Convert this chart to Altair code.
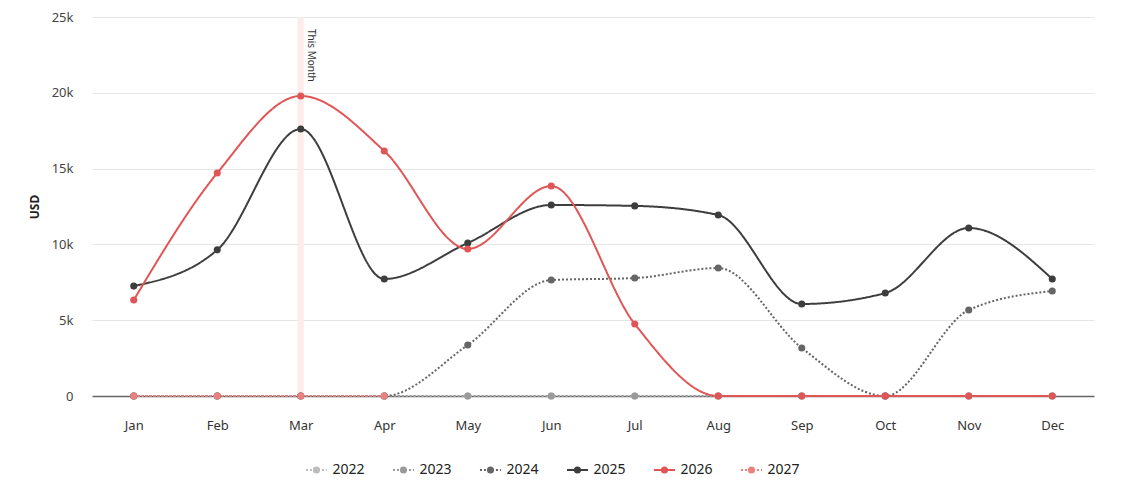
import altair as alt
import pandas as pd

months = ["Jan", "Feb", "Mar", "Apr", "May", "Jun", "Jul", "Aug", "Sep", "Oct", "Nov", "Dec"]
years = ["2022", "2023", "2024", "2025", "2026", "2027"]

v2022 = [0, 0, 0, 0, 0, 0, 0, 0, 0, 0, 0, 0]
v2023 = [0, 0, 0, 0, 0, 0, 0, 0, 0, 0, 0, 0]
v2024 = [0, 0, 0, 0, 3360, 7650, 7780, 8440, 3170, 0, 5670, 6930]
v2025 = [7250, 9640, 17610, 7720, 10090, 12600, 12540, 11940, 6070, 6790, 11080, 7720]
v2026 = [6330, 14710, 19790, 16160, 9700, 13850, 4750, 0, 0, 0, 0, 0]
v2027 = [0, 0, 0, 0]

colors = ["#bdbdbd", "#9a9a9a", "#666666", "#3d3d3d", "#e05555", "#ea8080"]
dashes = [[2, 2], [2, 2], [2, 2], [1, 0], [1, 0], [2, 2]]

series = [v2022, v2023, v2024, v2025, v2026, v2027]
rows = []
for y, vals in zip(years, series):
    for m, v in zip(months, vals):
        rows.append({"month": m, "year": y, "value": v})
df = pd.DataFrame(rows)

FONT = "Noto Sans"

x_scale = alt.Scale(type="point", domain=months, padding=0.5)
y_scale = alt.Scale(domain=[0, 25000], nice=False)

x_axis = alt.Axis(labelAngle=0, labelAlign="center", labelBaseline="middle", ticks=False,
                  labelPadding=29, labelFontSize=13, labelColor="#333333",
                  domainColor="#666666", domainWidth=1.5, grid=False, labelFont=FONT)
x_enc = alt.X("month:N", sort=months, title=None, scale=x_scale, axis=x_axis)
y_enc = alt.Y("value:Q", title="USD", scale=y_scale,
              axis=alt.Axis(values=[0, 5000, 10000, 15000, 20000, 25000],
                            labelExpr="datum.value == 0 ? '0' : format(datum.value / 1000, 'd') + 'k'",
                            domain=False, ticks=False, labelPadding=19, labelFontSize=13,
                            labelColor="#444444", labelFont=FONT, titleFont=FONT,
                            titleFontSize=12, titleFontWeight="bold", titleColor="#222222",
                            titlePadding=10, gridColor="#e6e6e6"))

color_scale = alt.Scale(domain=years, range=colors)
dash_scale = alt.Scale(domain=years, range=dashes)

marker = pd.DataFrame({"month": ["Mar"], "label": ["This Month"], "top": [25000]})

rule = alt.Chart(marker).mark_rule(color="#fdecec", strokeWidth=6).encode(
    x=x_enc,
    y=alt.Y("top:Q", scale=y_scale, title="USD"),
    y2=alt.datum(0),
)
label = alt.Chart(marker).mark_text(angle=90, align="left", baseline="bottom", dx=12, dy=-5,
                                    fontSize=10, font=FONT, color="#333333").encode(
    x=x_enc,
    y=alt.Y("top:Q", scale=y_scale, title="USD"),
    text="label:N",
)

lines = alt.Chart(df).mark_line(interpolate="monotone", strokeWidth=2).encode(
    x=x_enc, y=y_enc,
    color=alt.Color("year:N", scale=color_scale, legend=None),
    strokeDash=alt.StrokeDash("year:N", scale=dash_scale, legend=None),
    order=alt.Order("year:N"),
)
points = alt.Chart(df).mark_point(filled=True, size=50, opacity=1).encode(
    x=x_enc, y=y_enc,
    color=alt.Color("year:N", scale=color_scale, legend=None),
)

top = alt.layer(rule, label, lines, points).properties(width=1002, height=379)

# legend drawn as a small chart
leg_df = pd.DataFrame({"year": years, "idx": list(range(len(years)))})
lx = alt.X("idx:Q", axis=None, scale=alt.Scale(domain=[-2.58, 8.937], nice=False, zero=False))
leg_line = alt.Chart(leg_df).mark_point(shape="M-1,0L1,0", size=441, strokeWidth=2, filled=False, opacity=1).encode(
    x=lx,
    color=alt.Color("year:N", scale=color_scale, legend=None),
    strokeDash=alt.StrokeDash("year:N", scale=dash_scale, legend=None),
)
leg_dot = alt.Chart(leg_df).mark_point(filled=True, size=50, opacity=1).encode(
    x=lx,
    color=alt.Color("year:N", scale=color_scale, legend=None),
)
leg_text = alt.Chart(leg_df).mark_text(align="left", dx=16, fontSize=14, font=FONT, color="#222222").encode(
    x=lx, text="year:N",
)
legend = alt.layer(leg_line, leg_dot, leg_text).properties(width=1002, height=20)

chart = alt.vconcat(top, legend, spacing=28).resolve_scale(
    x="independent", color="shared"
).properties(
    padding={"left": 20, "top": 3, "right": 5, "bottom": 5}
).configure(font=FONT, view=alt.ViewConfig(stroke=None))

chart.save("out.html", embed_options={"renderer": "svg", "actions": False})
